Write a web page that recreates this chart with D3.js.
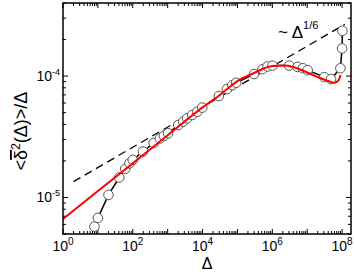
<!DOCTYPE html>
<html>
<head>
<meta charset="utf-8">
<script src="https://cdn.jsdelivr.net/npm/d3@7"></script>
<style>
  body { margin: 0; background: #fff; }
  text { font-family: "Liberation Sans", Arial, sans-serif; }
</style>
</head>
<body>
<div class="chart"></div>
<script>
// measured points (open circles)
let dataX = [7.96, 10, 20.1, 40.9, 60.8, 80.4, 100, 196, 397, 598, 780, 1030, 2013, 2786, 3630, 5058, 7046, 9818,
    29450, 50000, 71600, 92100, 2.99e5, 5.22e5, 7.28e5, 1.01e6, 3.04e6, 5.31e6, 7.55e6, 1.03e7, 3.10e7, 4.82e7,
    8.93e7, 1.0e8, 1.02e8];
let dataY = [5.75e-6, 6.78e-6, 1.05e-5, 1.46e-5, 1.72e-5, 1.91e-5, 2.04e-5, 2.39e-5, 2.81e-5, 3.06e-5, 3.21e-5, 3.38e-5,
    3.95e-5, 4.21e-5, 4.49e-5, 4.78e-5, 5.08e-5, 5.50e-5, 6.85e-5, 7.81e-5, 8.43e-5, 8.81e-5, 1.04e-4, 1.14e-4,
    1.20e-4, 1.22e-4, 1.22e-4, 1.19e-4, 1.16e-4, 1.12e-4, 9.81e-5, 9.45e-5, 1.16e-4, 1.69e-4, 2.36e-4];

// model curve (red)
let fitX = [1, 10, 100, 1e3, 1e4, 3e4, 1e5, 3e5, 1e6, 2e6, 4e6, 1e7, 2e7, 4e7, 6e7, 8e7, 9e7];
let fitY = [6.65e-6, 1.13e-5, 1.91e-5, 3.25e-5, 5.52e-5, 6.92e-5, 9.1e-5, 1.06e-4, 1.21e-4, 1.22e-4, 1.19e-4,
    1.07e-4, 9.81e-5, 9.1e-5, 8.81e-5, 9.27e-5, 1.02e-4];

// ~ Delta^(1/6) guide, end points
let guideX = [2, 1.2e8];
let guideY = [1.35e-5, 2.67e-4];

let xLabelPowers = [0, 2, 4, 6, 8];
let yLabelPowers = [-5, -4];

let W = 354, H = 273;
let pLeft = 63, pRight = 351, pTop = 3, pBottom = 234;

let x = d3.scaleLog().domain([1, 1.8e8]).range([pLeft, pRight]);
let y = d3.scaleLog().domain([5e-6, 4e-4]).range([pBottom, pTop]);

let svg = d3.select(".chart").append("svg").attr("width", W).attr("height", H);

function logTicks(scale) {
    let d = scale.domain(), out = [];
    for (let k = Math.floor(Math.log10(d[0])); k <= Math.ceil(Math.log10(d[1])); k++) {
        for (let m = 1; m < 10; m++) {
            let v = m * Math.pow(10, k);
            if (v >= d[0] * 0.999 && v <= d[1] * 1.001) out.push({v: v, major: m == 1});
        }
    }
    return out;
}

let xt = logTicks(x), yt = logTicks(y);

// ticks, all four sides, pointing in
let ticks = svg.append("g").attr("stroke", "#000").attr("stroke-width", 1);
ticks.selectAll(".xb").data(xt).enter().append("line")
    .attr("x1", d => x(d.v)).attr("x2", d => x(d.v))
    .attr("y1", pBottom).attr("y2", d => pBottom - (d.major ? 5 : 3));
ticks.selectAll(".xt").data(xt).enter().append("line")
    .attr("x1", d => x(d.v)).attr("x2", d => x(d.v))
    .attr("y1", pTop).attr("y2", d => pTop + (d.major ? 5 : 3));
ticks.selectAll(".yl").data(yt).enter().append("line")
    .attr("y1", d => y(d.v)).attr("y2", d => y(d.v))
    .attr("x1", pLeft).attr("x2", d => pLeft + (d.major ? 5 : 3));
ticks.selectAll(".yr").data(yt).enter().append("line")
    .attr("y1", d => y(d.v)).attr("y2", d => y(d.v))
    .attr("x1", pRight).attr("x2", d => pRight - (d.major ? 5 : 3));

// guide line
svg.append("line")
    .attr("x1", x(guideX[0])).attr("y1", y(guideY[0]))
    .attr("x2", x(guideX[1])).attr("y2", y(guideY[1]))
    .attr("stroke", "#000").attr("stroke-width", 1.3).attr("stroke-dasharray", "8,5");

// data line + circles
let pts = dataX.map((v, i) => [v, dataY[i]]);
svg.append("path").datum(pts)
    .attr("d", d3.line().x(d => x(d[0])).y(d => y(d[1])))
    .attr("fill", "none").attr("stroke", "#000").attr("stroke-width", 1.5);
svg.append("g").selectAll("circle").data(pts).enter().append("circle")
    .attr("cx", d => x(d[0])).attr("cy", d => y(d[1])).attr("r", 4.8)
    .attr("fill", "#fff").attr("stroke", "#555").attr("stroke-width", 1);

// fit curve
let fit = fitX.map((v, i) => [v, fitY[i]]);
svg.append("path").datum(fit)
    .attr("d", d3.line().x(d => x(d[0])).y(d => y(d[1])).curve(d3.curveMonotoneX))
    .attr("fill", "none").attr("stroke", "#ff0000").attr("stroke-width", 2);

// frame
svg.append("rect").attr("x", pLeft).attr("y", pTop).attr("width", pRight - pLeft).attr("height", pBottom - pTop)
    .attr("fill", "none").attr("stroke", "#000").attr("stroke-width", 1.5);

// tick labels
let xl = svg.append("g").selectAll("text").data(xLabelPowers).enter().append("text")
    .attr("x", p => x(Math.pow(10, p))).attr("y", 251)
    .attr("text-anchor", "middle").attr("font-size", 14);
xl.append("tspan").text("10");
xl.append("tspan").attr("dy", -6).attr("font-size", 10).text(p => p);

let yl = svg.append("g").selectAll("text").data(yLabelPowers).enter().append("text")
    .attr("x", 60).attr("y", p => y(Math.pow(10, p)) + 5)
    .attr("text-anchor", "end").attr("font-size", 14);
yl.append("tspan").text("10");
yl.append("tspan").attr("dy", -6).attr("font-size", 9).text(p => "-" + Math.abs(p));

// axis titles
svg.append("text").attr("x", 207).attr("y", 269).attr("text-anchor", "middle")
    .attr("font-size", 16).text("Δ");

let yTitle = svg.append("text").attr("transform", "translate(27,131) rotate(-90)")
    .attr("text-anchor", "middle").attr("font-size", 18);
yTitle.append("tspan").text("<");
yTitle.append("tspan").style("text-decoration", "overline").text("δ");
yTitle.append("tspan").attr("dy", -7).attr("font-size", 12).text("2");
yTitle.append("tspan").attr("dy", 7).text("(Δ)>/Δ");

// annotation
let ann = svg.append("text").attr("x", 278).attr("y", 38).attr("font-size", 17);
ann.append("tspan").text("~ Δ");
ann.append("tspan").attr("dy", -9).attr("font-size", 11).text("1/6");
</script>
</body>
</html>
